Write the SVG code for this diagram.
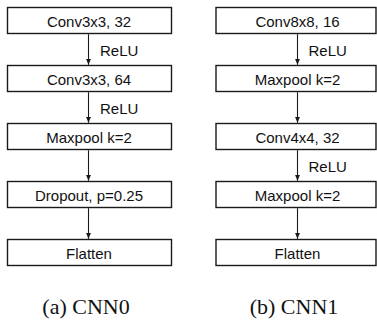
<svg xmlns="http://www.w3.org/2000/svg" width="377" height="322" viewBox="0 0 377 322">
  <style>
    .box { fill: #ffffff; stroke: #1a1a1a; stroke-width: 1.4; }
    .lbl { font-family: "Liberation Sans", Arial, sans-serif; font-size: 15px; fill: #111; text-anchor: middle; }
    .act { font-family: "Liberation Sans", Arial, sans-serif; font-size: 15px; fill: #111; }
    .cap { font-family: "Liberation Serif", "Times New Roman", serif; font-size: 22px; fill: #111; text-anchor: middle; }
    .edge { stroke: #1a1a1a; stroke-width: 1.1; fill: none; marker-end: url(#head); }
  </style>
  <defs>
    <marker id="head" viewBox="0 0 6 6" refX="6" refY="3" markerWidth="6" markerHeight="6" markerUnits="userSpaceOnUse" orient="auto">
      <path d="M0,0.5 L6,3 L0,5.5 Z" fill="#1a1a1a"/>
    </marker>
  </defs>

  <!-- CNN0 column -->
  <g id="a-conv1"><rect class="box" x="7.5" y="7.5" width="164" height="26"/><text class="lbl" x="89" y="26.5">Conv3x3, 32</text></g>
  <g id="a-conv2"><rect class="box" x="7.5" y="65.5" width="164" height="26"/><text class="lbl" x="89" y="84.5">Conv3x3, 64</text></g>
  <g id="a-pool"><rect class="box" x="7.5" y="123.5" width="164" height="26"/><text class="lbl" x="89" y="142.5">Maxpool k=2</text></g>
  <g id="a-drop"><rect class="box" x="7.5" y="181.5" width="164" height="26"/><text class="lbl" x="89" y="200.5">Dropout, p=0.25</text></g>
  <g id="a-flat"><rect class="box" x="7.5" y="239.5" width="164" height="26"/><text class="lbl" x="89" y="258.5">Flatten</text></g>

  <!-- CNN1 column -->
  <g id="b-conv1"><rect class="box" x="216" y="7.5" width="160" height="26"/><text class="lbl" x="297.5" y="26.5">Conv8x8, 16</text></g>
  <g id="b-pool1"><rect class="box" x="216" y="65.5" width="160" height="26"/><text class="lbl" x="297.5" y="84.5">Maxpool k=2</text></g>
  <g id="b-conv2"><rect class="box" x="216" y="123.5" width="160" height="26"/><text class="lbl" x="297.5" y="142.5">Conv4x4, 32</text></g>
  <g id="b-pool2"><rect class="box" x="216" y="181.5" width="160" height="26"/><text class="lbl" x="297.5" y="200.5">Maxpool k=2</text></g>
  <g id="b-flat"><rect class="box" x="216" y="239.5" width="160" height="26"/><text class="lbl" x="297.5" y="258.5">Flatten</text></g>

  <!-- connectors -->
  <g id="connectors">
    <line class="edge" x1="88.5" y1="34.2" x2="88.5" y2="64.8"/>
    <line class="edge" x1="88.5" y1="92.2" x2="88.5" y2="122.8"/>
    <line class="edge" x1="88.5" y1="150.2" x2="88.5" y2="180.8"/>
    <line class="edge" x1="88.5" y1="208.2" x2="88.5" y2="238.8"/>
    <line class="edge" x1="297.5" y1="34.2" x2="297.5" y2="64.8"/>
    <line class="edge" x1="297.5" y1="92.2" x2="297.5" y2="122.8"/>
    <line class="edge" x1="297.5" y1="150.2" x2="297.5" y2="180.8"/>
    <line class="edge" x1="297.5" y1="208.2" x2="297.5" y2="238.8"/>
    <text class="act" x="100" y="55.5">ReLU</text>
    <text class="act" x="100" y="113.5">ReLU</text>
    <text class="act" x="308.5" y="55.5">ReLU</text>
    <text class="act" x="308.5" y="171.5">ReLU</text>
  </g>

  <!-- captions -->
  <text class="cap" x="86" y="314">(a) CNN0</text>
  <text class="cap" x="294" y="314">(b) CNN1</text>
</svg>
